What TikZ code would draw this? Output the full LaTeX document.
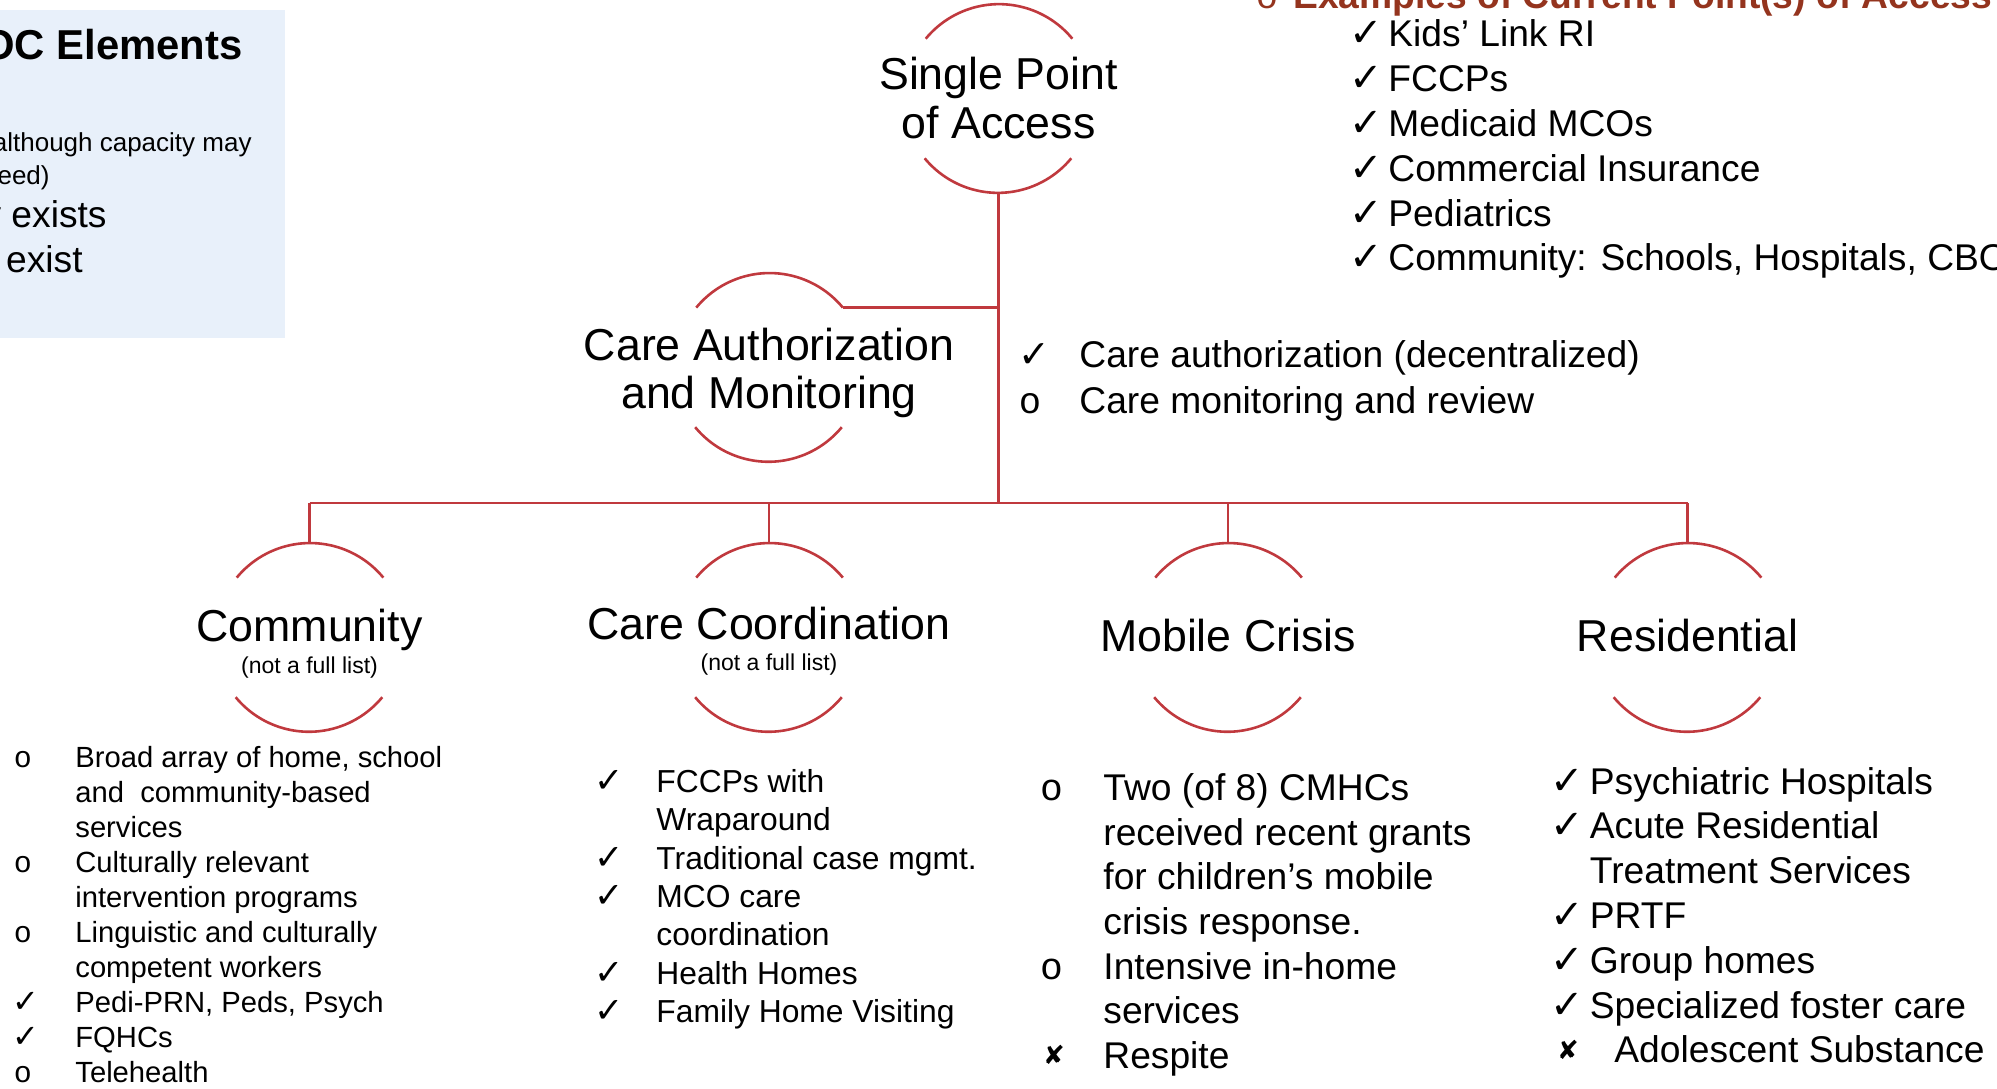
\documentclass[tikz,border=0pt]{standalone}
\usepackage{fontspec}
\setmainfont{Liberation Sans}
\newfontfamily\symf{DejaVu Sans}
\newfontfamily\monof{Liberation Mono}
\definecolor{arcred}{RGB}{192,57,62}
\definecolor{titlered}{RGB}{148,52,30}
\definecolor{boxblue}{RGB}{232,240,250}
\newcommand\myfs[1]{\fontsize{#1}{#1}\selectfont}
\newcommand\ringarcs[1]{%
  \draw[arcline] (#1.39.5) arc[start angle=39.5,end angle=140.5,radius=47.5pt];
  \draw[arcline] (#1.219.5) arc[start angle=219.5,end angle=320.5,radius=47.5pt];}
\begin{document}
\begin{tikzpicture}[x=0.5pt,y=-0.5pt,
  arcline/.style={draw=arcred,line width=1.3pt},
  ring/.style={circle,minimum size=95pt,inner sep=0pt,outer sep=0pt},
  head/.style={anchor=base,inner sep=0pt,font=\myfs{22.35pt}},
  subhead/.style={anchor=base,inner sep=0pt,font=\myfs{11.5pt}},
  tx/.style={anchor=base west,inner sep=0pt,font=\myfs{#1}},
  txe/.style={anchor=base east,inner sep=0pt,font=\myfs{#1}},
  ck/.style={anchor=base,inner sep=0pt,font=\symf\myfs{#1}},
  ob/.style={anchor=base,inner sep=0pt,font=\monof\myfs{#1}},
]
\useasboundingbox (0,0) rectangle (1997,1088);
\clip (0,0) rectangle (1997,1088);

% blue legend box (cut at left edge)
\fill[boxblue] (0,10) rectangle (285,338);
\node[txe=20.9pt,font=\bfseries\myfs{20.9pt}] (lg0) at (243,59) {OC Elements};
\node[txe=13pt] (lg1) at (252,151) {although capacity may};
\node[txe=13pt] (lg2) at (50,184) {eed)};
\node[txe=18.6pt] (lg3) at (107,227) {y exists};
\node[txe=18.6pt] (lg4) at (83,272) {exist};

% rings
\node[ring] (spa) at (998.5,98.5) {};
\node[ring] (cam) at (769,367.4) {};
\node[ring] (com) at (309.5,637.4) {};
\node[ring] (cc)  at (769,637.4) {};
\node[ring] (mc)  at (1228,637.4) {};
\node[ring] (res) at (1687.5,637.4) {};
\ringarcs{spa}\ringarcs{cam}\ringarcs{com}\ringarcs{cc}\ringarcs{mc}\ringarcs{res}

% connectors
\coordinate (bus) at (998.5,503);
\draw[arcline] (spa.south) -- (bus);
\draw[arcline] (cam.39.5) -- (cam.39.5 -| spa.south);
\draw[arcline] (com.north |- bus) -- (res.north |- bus);
\foreach \n in {com,cc,mc,res} \draw[arcline] (\n.north |- bus) -- (\n.north);

% ring titles
\node[head] (spat1) at (998.5,89.5) {Single Point};
\node[head] (spat2) at (998.5,138.5) {of Access};
\node[head] (camt1) at (769,360) {Care Authorization};
\node[head] (camt2) at (769,408.6) {and Monitoring};
\node[head] (comt) at (309.5,641) {Community};
\node[subhead] (coms) at (309.5,673) {(not a full list)};
\node[head] (cct) at (769,639) {Care Coordination};
\node[subhead] (ccs) at (769,670) {(not a full list)};
\node[head] (mct) at (1228,651) {Mobile Crisis};
\node[head] (rest) at (1687.5,651) {Residential};

% top-right title and list
\node[ob=18.6pt,text=titlered] (tb) at (1267,8) {o};
\node[tx=18.6pt,text=titlered,font=\bfseries\myfs{18.6pt}] (tt) at (1293,8) {Examples of Current Point(s) of Access};
\node[ck=20pt] (tc1) at (1366,46.8) {✓};
\node[tx=18.6pt] (tl1) at (1388,46.8) {Kids’ Link RI};
\node[ck=20pt] (tc2) at (1366,91.6) {✓};
\node[tx=18.6pt] (tl2) at (1388,91.6) {FCCPs};
\node[ck=20pt] (tc3) at (1366,136.4) {✓};
\node[tx=18.6pt] (tl3) at (1388,136.4) {Medicaid MCOs};
\node[ck=20pt] (tc4) at (1366,181.2) {✓};
\node[tx=18.6pt] (tl4) at (1388,181.2) {Commercial Insurance};
\node[ck=20pt] (tc5) at (1366,226) {✓};
\node[tx=18.6pt] (tl5) at (1388,226) {Pediatrics};
\node[ck=20pt] (tc6) at (1366,270.8) {✓};
\node[tx=18.6pt] (tl6) at (1388,270.8) {Community: Schools, Hospitals, CBO};

% care authorization list
\node[ck=19pt] (ac1) at (1034,367.8) {✓};
\node[tx=18.6pt] (al1) at (1079,367.8) {Care authorization (decentralized)};
\node[ob=18.6pt] (ab2) at (1030,413.6) {o};
\node[tx=18.6pt] (al2) at (1079,413.6) {Care monitoring and review};

% community list
\node[ob=15pt] (cb1) at (23,767) {o};
\node[tx=14.6pt] (cl1) at (75,767) {Broad array of home, school};
\node[tx=14.6pt] (cl2) at (75,802.1) {and\ \ community-based};
\node[tx=14.6pt] (cl3) at (75,837.2) {services};
\node[ob=15pt] (cb4) at (23,872.3) {o};
\node[tx=14.6pt] (cl4) at (75,872.3) {Culturally relevant};
\node[tx=14.6pt] (cl5) at (75,907.4) {intervention programs};
\node[ob=15pt] (cb6) at (23,942.5) {o};
\node[tx=14.6pt] (cl6) at (75,942.5) {Linguistic and culturally};
\node[tx=14.6pt] (cl7) at (75,977.6) {competent workers};
\node[ck=16pt] (cc8) at (26,1012.7) {✓};
\node[tx=14.6pt] (cl8) at (75,1012.7) {Pedi-PRN, Peds, Psych};
\node[ck=16pt] (cc9) at (26,1047.8) {✓};
\node[tx=14.6pt] (cl9) at (75,1047.8) {FQHCs};
\node[ob=15pt] (cb10) at (23,1082.9) {o};
\node[tx=14.6pt] (cl10) at (75,1082.9) {Telehealth};

% care coordination list
\node[ck=17.5pt] (kc1) at (609,792.5) {✓};
\node[tx=15.9pt] (kl1) at (656,792.5) {FCCPs with};
\node[tx=15.9pt] (kl2) at (656,830.8) {Wraparound};
\node[ck=17.5pt] (kc3) at (609,869.1) {✓};
\node[tx=15.9pt] (kl3) at (656,869.1) {Traditional case mgmt.};
\node[ck=17.5pt] (kc4) at (609,907.4) {✓};
\node[tx=15.9pt] (kl4) at (656,907.4) {MCO care};
\node[tx=15.9pt] (kl5) at (656,945.7) {coordination};
\node[ck=17.5pt] (kc6) at (609,984) {✓};
\node[tx=15.9pt] (kl6) at (656,984) {Health Homes};
\node[ck=17.5pt] (kc7) at (609,1022.3) {✓};
\node[tx=15.9pt] (kl7) at (656,1022.3) {Family Home Visiting};

% mobile crisis list
\node[ob=19pt] (mb1) at (1052,800.6) {o};
\node[tx=18.6pt] (ml1) at (1103,800.6) {Two (of 8) CMHCs};
\node[tx=18.6pt] (ml2) at (1103,845.2) {received recent grants};
\node[tx=18.6pt] (ml3) at (1103,889.8) {for children’s mobile};
\node[tx=18.6pt] (ml4) at (1103,934.4) {crisis response.};
\node[ob=19pt] (mb5) at (1052,979) {o};
\node[tx=18.6pt] (ml5) at (1103,979) {Intensive in-home};
\node[tx=18.6pt] (ml6) at (1103,1023.6) {services};
\node[ck=13pt] (mx7) at (1054,1064) {✘};
\node[tx=18.6pt] (ml7) at (1103,1068.2) {Respite};

% residential list
\node[ck=20pt] (rc1) at (1567,794) {✓};
\node[tx=18.6pt] (rl1) at (1589.5,794) {Psychiatric Hospitals};
\node[ck=20pt] (rc2) at (1567,838.8) {✓};
\node[tx=18.6pt] (rl2) at (1589.5,838.8) {Acute Residential};
\node[tx=18.6pt] (rl3) at (1589.5,883.6) {Treatment Services};
\node[ck=20pt] (rc4) at (1567,928.4) {✓};
\node[tx=18.6pt] (rl4) at (1589.5,928.4) {PRTF};
\node[ck=20pt] (rc5) at (1567,973.2) {✓};
\node[tx=18.6pt] (rl5) at (1589.5,973.2) {Group homes};
\node[ck=20pt] (rc6) at (1567,1018) {✓};
\node[tx=18.6pt] (rl6) at (1589.5,1018) {Specialized foster care};
\node[ck=13pt] (rx7) at (1568,1059) {✘};
\node[tx=18.6pt] (rl7) at (1614,1062.8) {Adolescent Substance};
\end{tikzpicture}
\end{document}
